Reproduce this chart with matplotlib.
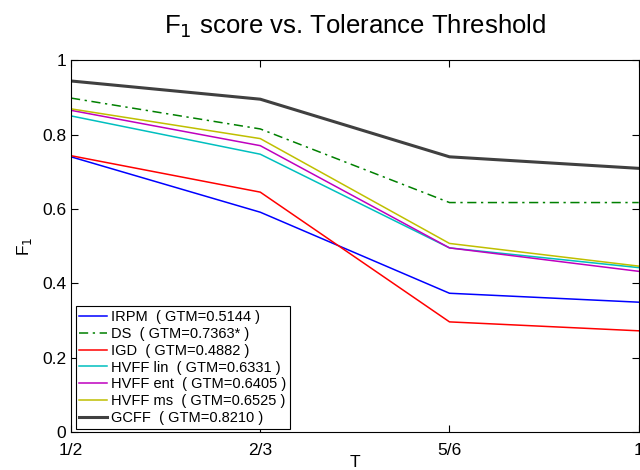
import matplotlib
matplotlib.use("Agg")
import matplotlib.pyplot as plt

plt.rcParams['font.family'] = ['Liberation Sans', 'DejaVu Sans']

x_vals = [1/2, 2/3, 5/6, 1.0]
x_labels = ["1/2", "2/3", "5/6", "1"]

irpm = [0.740, 0.591, 0.373, 0.349]
ds = [0.898, 0.815, 0.617, 0.617]
igd = [0.743, 0.645, 0.296, 0.272]
hvff_lin = [0.850, 0.747, 0.495, 0.442]
hvff_ent = [0.865, 0.770, 0.495, 0.432]
hvff_ms = [0.869, 0.789, 0.507, 0.446]
gcff = [0.944, 0.895, 0.740, 0.709]

labels = ["IRPM  ( GTM=0.5144 )", "DS  ( GTM=0.7363* )", "IGD  ( GTM=0.4882 )",
          "HVFF lin  ( GTM=0.6331 )", "HVFF ent  ( GTM=0.6405 )",
          "HVFF ms  ( GTM=0.6525 )", "GCFF  ( GTM=0.8210 )"]

fig = plt.figure(figsize=(6.4, 4.7), dpi=100)
ax = fig.add_axes([0.111, 0.081, 0.887, 0.791])

ax.plot(x_vals, irpm, color=(0, 0, 1), lw=1.1, label=labels[0])
ax.plot(x_vals, ds, color=(0, 0.5, 0), lw=1.1, ls=(0, (6, 3, 1.5, 3)), label=labels[1])
ax.plot(x_vals, igd, color=(1, 0, 0), lw=1.1, label=labels[2])
ax.plot(x_vals, hvff_lin, color=(0, 0.75, 0.75), lw=1.1, label=labels[3])
ax.plot(x_vals, hvff_ent, color=(0.75, 0, 0.75), lw=1.1, label=labels[4])
ax.plot(x_vals, hvff_ms, color=(0.75, 0.75, 0), lw=1.1, label=labels[5])
ax.plot(x_vals, gcff, color=(0.25, 0.25, 0.25), lw=2.2, label=labels[6])

ax.set_xlim(0.5, 1.0)
ax.set_ylim(0, 1)
ax.set_xticks(x_vals)
ax.set_xticklabels(x_labels)
ax.set_yticks([0, 0.2, 0.4, 0.6, 0.8, 1.0])
ax.set_yticklabels(["0", "0.2", "0.4", "0.6", "0.8", "1"])
ax.tick_params(direction='in', top=True, right=True, labelsize=12.5, length=5, width=0.8)
ax.tick_params(axis='x', pad=8)
for s in ax.spines.values():
    s.set_linewidth(0.8)

ax.set_xlabel("T", fontsize=12.5, labelpad=-2)
ax.set_ylabel("F$_1$", fontsize=12.5, labelpad=6)
ax.set_title("F$_1$ score vs. Tolerance Threshold", fontsize=18.5, pad=19)

leg = ax.legend(loc='lower left', bbox_to_anchor=(0.008, 0.008), borderaxespad=0,
                fontsize=10.5, fancybox=False, edgecolor='black', framealpha=1,
                handlelength=1.9, handletextpad=0.3, labelspacing=0.2,
                borderpad=0.25)
leg.get_frame().set_linewidth(0.8)

fig.savefig("out.png", dpi=100)
